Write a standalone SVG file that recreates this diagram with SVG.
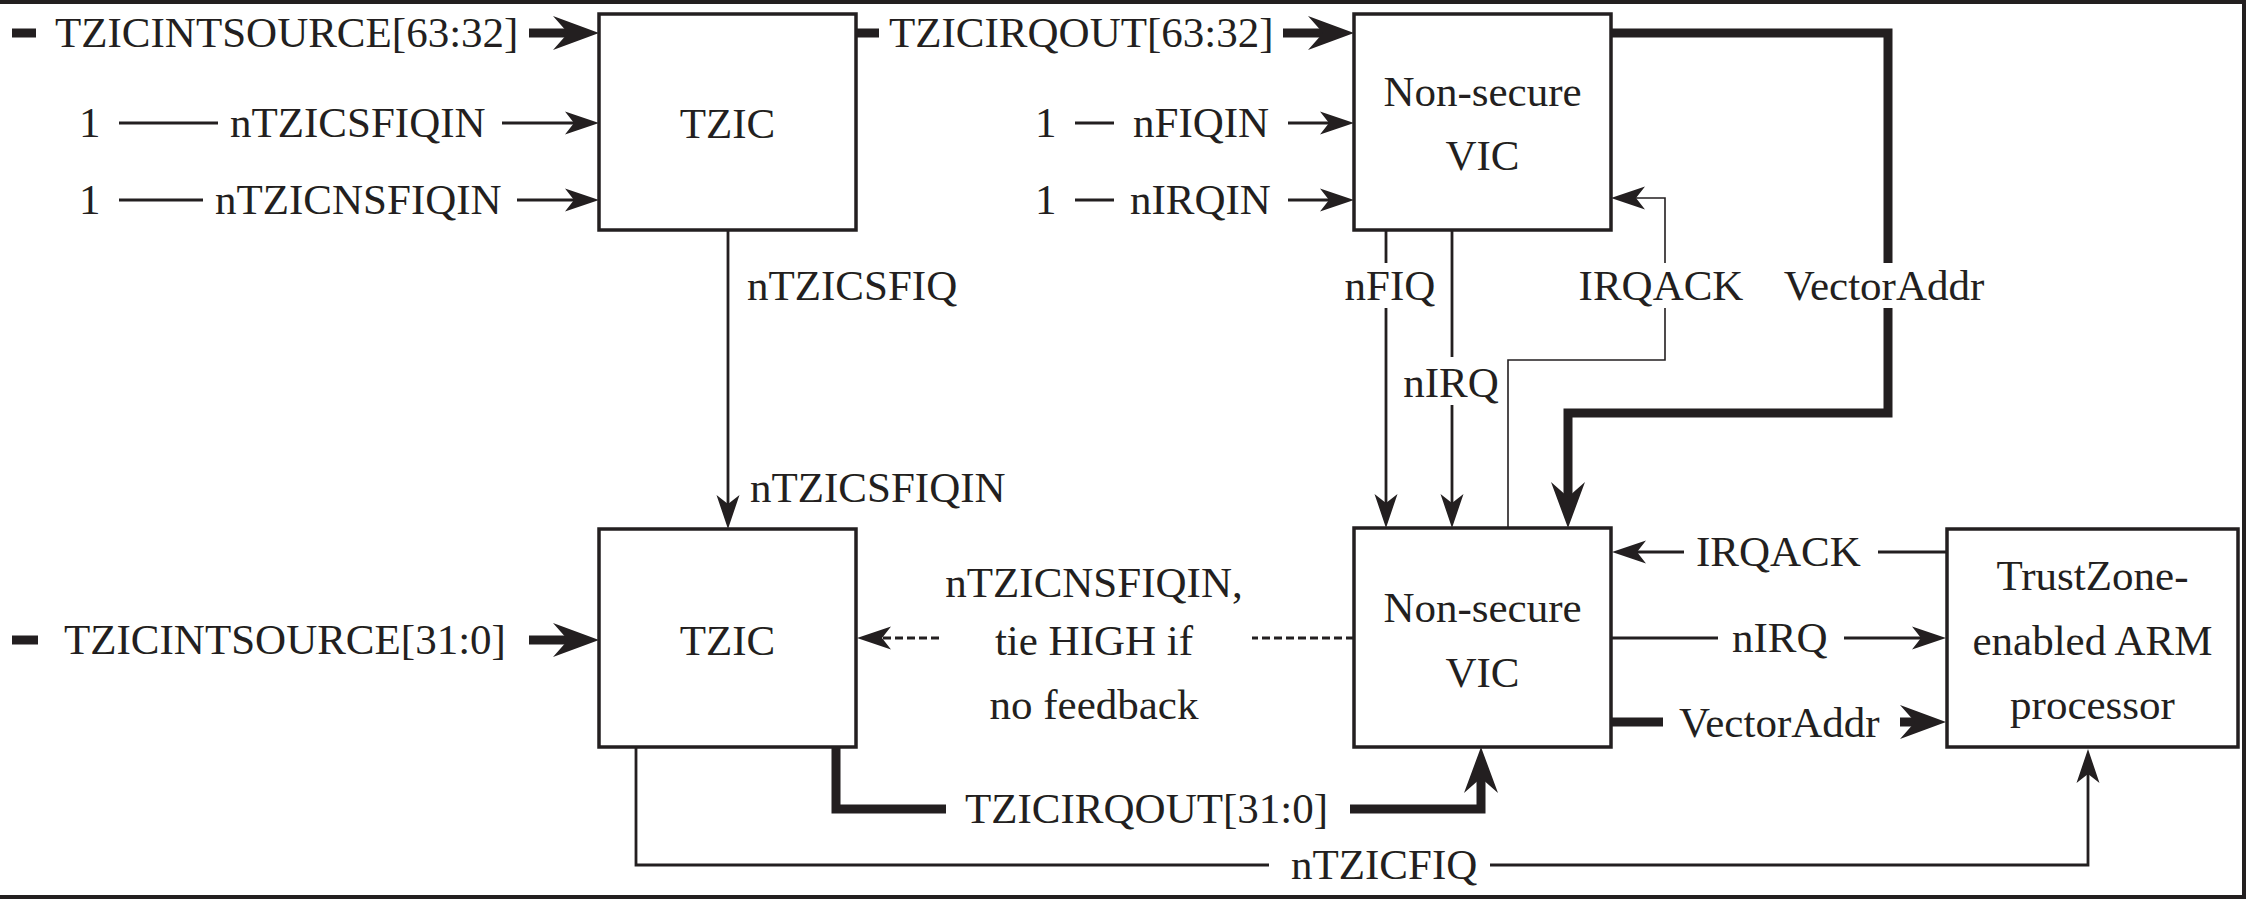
<svg xmlns="http://www.w3.org/2000/svg" width="2247" height="900" viewBox="0 0 2247 900">
<style>
text{font-family:"Liberation Serif","Times New Roman",serif;font-size:43px;fill:#231f20}
.m{text-anchor:middle}
.box{fill:#fff;stroke:#231f20;stroke-width:3.5}
.t{fill:none;stroke:#231f20;stroke-width:2.8}
.h{fill:none;stroke:#231f20;stroke-width:1.6}
.k{fill:none;stroke:#231f20;stroke-width:9}
.d{fill:none;stroke:#231f20;stroke-width:3;stroke-dasharray:8 4}
</style>
<defs>
<marker id="a" viewBox="-35 -12 37 24" refX="-20" refY="0" markerWidth="37" markerHeight="24" markerUnits="userSpaceOnUse" orient="auto"><path d="M0,0 L-34,-11.5 L-25,0 L-34,11.5 Z" fill="#231f20"/></marker>
<marker id="b" viewBox="-47 -18 49 36" refX="-26" refY="0" markerWidth="49" markerHeight="36" markerUnits="userSpaceOnUse" orient="auto"><path d="M0,0 L-46,-17 L-31,0 L-46,17 Z" fill="#231f20"/></marker>
</defs>
<rect width="2247" height="900" fill="#fff"/>
<path d="M0,2 H2244 V897 H0" fill="none" stroke="#231f20" stroke-width="4"/>

<g id="tzic-upper"><rect class="box" x="599" y="14" width="257" height="216"/><text class="m" x="727.5" y="138">TZIC</text></g>
<g id="tzic-lower"><rect class="box" x="599" y="529" width="257" height="218"/><text class="m" x="727.5" y="655">TZIC</text></g>
<g id="vic-upper"><rect class="box" x="1354" y="14" width="257" height="216"/><text class="m" x="1482.5" y="106">Non-secure</text><text class="m" x="1482.5" y="170">VIC</text></g>
<g id="vic-lower"><rect class="box" x="1354" y="528" width="257" height="219"/><text class="m" x="1482.5" y="622">Non-secure</text><text class="m" x="1482.5" y="687">VIC</text></g>
<g id="arm"><rect class="box" x="1947" y="529" width="291" height="218"/><text class="m" x="2092.5" y="590">TrustZone-</text><text class="m" x="2092.5" y="655">enabled ARM</text><text class="m" x="2092.5" y="719">processor</text></g>

<g id="connectors">
<path class="k" d="M12,33 H36"/>
<path class="k" d="M529,33 H573" marker-end="url(#b)"/>
<path class="t" d="M119,123 H218"/>
<path class="t" d="M502,123 H579" marker-end="url(#a)"/>
<path class="t" d="M119,200 H203"/>
<path class="t" d="M517,200 H579" marker-end="url(#a)"/>
<path class="k" d="M856,33 H879"/>
<path class="k" d="M1283,33 H1328" marker-end="url(#b)"/>
<path class="t" d="M1075,123 H1114"/>
<path class="t" d="M1288,123 H1334" marker-end="url(#a)"/>
<path class="t" d="M1075,200 H1114"/>
<path class="t" d="M1288,200 H1334" marker-end="url(#a)"/>
<path class="k" d="M1611,33 H1888 V263"/>
<path class="k" d="M1888,308 V413 H1568 V502" marker-end="url(#b)"/>
<path class="h" d="M1508,528 V360 H1665 V308"/>
<path class="h" d="M1665,263 V198 H1631" marker-end="url(#a)"/>
<path class="t" d="M1386,230 V263"/>
<path class="t" d="M1386,308 V508" marker-end="url(#a)"/>
<path class="t" d="M1452,230 V357"/>
<path class="t" d="M1452,405 V508" marker-end="url(#a)"/>
<path class="t" d="M728,230 V509" marker-end="url(#a)"/>
<path class="k" d="M12,640 H38"/>
<path class="k" d="M529,640 H573" marker-end="url(#b)"/>
<path class="d" d="M1354,638 H1252"/>
<path class="d" d="M939,638 H877" marker-end="url(#a)"/>
<path class="k" d="M836,747 V809 H946"/>
<path class="k" d="M1350,809 H1481 V773" marker-end="url(#b)"/>
<path class="t" d="M636,747 V865 H1269"/>
<path class="t" d="M1490,865 H2088 V769" marker-end="url(#a)"/>
<path class="t" d="M1947,552 H1878"/>
<path class="t" d="M1684,552 H1632" marker-end="url(#a)"/>
<path class="t" d="M1611,638 H1718"/>
<path class="t" d="M1844,638 H1926" marker-end="url(#a)"/>
<path class="k" d="M1611,722 H1663"/>
<path class="k" d="M1900,722 H1920" marker-end="url(#b)"/>
</g>

<g id="labels">
<text x="55" y="47">TZICINTSOURCE[63:32]</text>
<text x="79" y="137">1</text>
<text x="230" y="137">nTZICSFIQIN</text>
<text x="79" y="214">1</text>
<text x="215" y="214">nTZICNSFIQIN</text>
<text x="889" y="47">TZICIRQOUT[63:32]</text>
<text x="1035" y="137">1</text>
<text x="1133" y="137">nFIQIN</text>
<text x="1035" y="214">1</text>
<text x="1130" y="214">nIRQIN</text>
<text x="747" y="300">nTZICSFIQ</text>
<text x="750" y="502">nTZICSFIQIN</text>
<text class="m" x="1390" y="300">nFIQ</text>
<text class="m" x="1451" y="397">nIRQ</text>
<text class="m" x="1661" y="300">IRQACK</text>
<text class="m" x="1884" y="300">VectorAddr</text>
<text x="64" y="654">TZICINTSOURCE[31:0]</text>
<text class="m" x="1094" y="597">nTZICNSFIQIN,</text>
<text class="m" x="1094" y="655">tie HIGH if</text>
<text class="m" x="1094" y="719">no feedback</text>
<text x="965" y="823">TZICIRQOUT[31:0]</text>
<text x="1291" y="879">nTZICFIQ</text>
<text x="1696" y="566">IRQACK</text>
<text x="1732" y="652">nIRQ</text>
<text x="1679" y="737">VectorAddr</text>
</g>
</svg>
